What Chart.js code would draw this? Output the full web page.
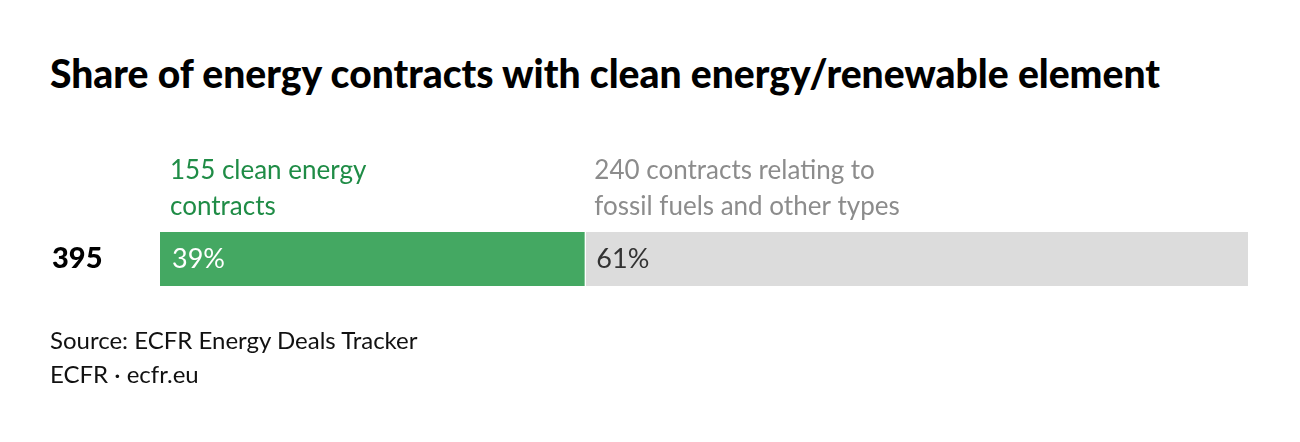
<!DOCTYPE html>
<html>
<head>
<meta charset="utf-8">
<script src="https://cdn.jsdelivr.net/npm/chart.js@4"></script>
<style>
  html, body { margin: 0; padding: 0; background: #fff; }
  body { width: 1300px; height: 442px; position: relative; overflow: hidden; font-family: Lato, sans-serif; }
  #title { position: absolute; left: 50px; top: 50px; font-size: 39px; font-weight: 900; color: #000; white-space: nowrap; }
  #source { position: absolute; left: 50px; top: 323px; font-size: 24px; line-height: 34px; color: #111; }
  #wrap { position: absolute; left: 0; top: 0; width: 1300px; height: 442px; }
</style>
</head>
<body>
<div id="title">Share of energy contracts with clean energy/renewable element</div>
<div id="wrap"><canvas id="chart"></canvas></div>
<div id="source">Source: ECFR Energy Deals Tracker<br>ECFR · ecfr.eu</div>
<script>
const rowLabels = ["395"];
const seriesNames = [
  ["155 clean energy", "contracts"],
  ["240 contracts relating to", "fossil fuels and other types"]
];
const counts = [155, 240];
const shares = [39, 61];
const barColors = ["#44a862", "#dcdcdc"];
const nameColors = ["#1f8c46", "#8c8c8c"];
const shareColors = ["#ffffff", "#333333"];

// series names above each segment, share inside it
const segmentLabels = {
  id: "segmentLabels",
  afterDatasetsDraw(chart) {
    const ctx = chart.ctx;
    const top = chart.chartArea.top;
    chart.data.datasets.forEach((ds, i) => {
      const bar = chart.getDatasetMeta(i).data[0];
      const left = Math.min(bar.base, bar.x);
      ctx.save();
      ctx.textAlign = "left";
      ctx.textBaseline = "alphabetic";
      ctx.font = "26px Lato, sans-serif";
      ctx.fillStyle = nameColors[i];
      seriesNames[i].forEach((line, j) => {
        ctx.fillText(line, left + 10, top - 53 + j * 36);
      });
      ctx.textBaseline = "middle";
      ctx.font = "27px Lato, sans-serif";
      ctx.fillStyle = shareColors[i];
      ctx.fillText(shares[i] + "%", left + 12, bar.y);
      ctx.restore();
    });
  }
};

new Chart(document.getElementById("chart"), {
  type: "bar",
  data: {
    labels: rowLabels,
    datasets: [
      {
        label: seriesNames[0].join(" "),
        data: [shares[0]],
        backgroundColor: barColors[0],
        borderWidth: 0
      },
      {
        label: seriesNames[1].join(" "),
        data: [shares[1]],
        backgroundColor: barColors[1],
        borderColor: "#ffffff",
        borderWidth: { left: 2, right: 0, top: 0, bottom: 0 },
        borderSkipped: false
      }
    ]
  },
  options: {
    indexAxis: "y",
    responsive: true,
    maintainAspectRatio: false,
    animation: false,
    layout: { padding: { left: 52, right: 52, top: 232, bottom: 156 } },
    datasets: { bar: { barPercentage: 1, categoryPercentage: 1 } },
    plugins: { legend: { display: false }, tooltip: { enabled: false } },
    scales: {
      x: { stacked: true, min: 0, max: 100, display: false },
      y: {
        stacked: true,
        grid: { display: false },
        border: { display: false },
        ticks: {
          crossAlign: "far",
          color: "#000",
          font: { family: "Lato, sans-serif", size: 29, weight: "900" }
        },
        afterFit(scale) { scale.width = 108; }
      }
    }
  },
  plugins: [segmentLabels]
});
</script>
</body>
</html>
